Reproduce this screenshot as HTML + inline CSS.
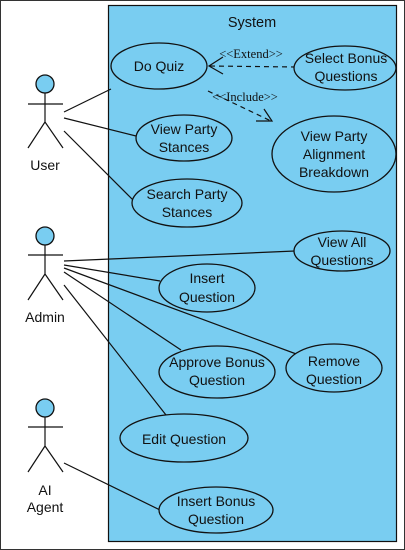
<!DOCTYPE html>
<html><head><meta charset="utf-8"><style>html,body{margin:0;padding:0;background:#fff}svg{display:block}</style></head>
<body>
<svg width="405" height="550" viewBox="0 0 405 550" xmlns="http://www.w3.org/2000/svg" font-family="'Liberation Sans', sans-serif">
<rect x="0.5" y="0.5" width="404" height="549" fill="#fff" stroke="#333" stroke-width="1"/>
<rect x="108.5" y="5.5" width="288" height="536" fill="#79cdf1" stroke="#111" stroke-width="1.2"/>
<text x="252" y="27" font-size="14.5" text-anchor="middle" fill="#111">System</text>
<g fill="#79cdf1" stroke="#111" stroke-width="1.3">
<circle cx="45" cy="84" r="9"/><circle cx="45" cy="236" r="9"/><circle cx="45" cy="408" r="9"/>
</g>
<g stroke="#111" stroke-width="1.2" fill="none">
<path d="M45 93V122M28 104H63M45 122L28 148M45 122L63 148"/>
<path d="M45 245V274M28 255H63M45 274L28 300M45 274L63 300"/>
<path d="M45 417V446M28 427H63M45 446L28 472M45 446L63 472"/>
<line x1="64" y1="112" x2="111" y2="89"/>
<line x1="64" y1="118" x2="136" y2="136"/>
<line x1="64" y1="131" x2="133" y2="200"/>
<line x1="64" y1="261" x2="295" y2="251"/>
<line x1="64" y1="265" x2="160" y2="281"/>
<line x1="64" y1="268" x2="299" y2="355"/>
<line x1="64" y1="272" x2="181" y2="350"/>
<line x1="64" y1="285" x2="166" y2="415"/>
<line x1="64" y1="463" x2="160" y2="510"/>
<line x1="296" y1="67" x2="210" y2="66" stroke-dasharray="5,4"/>
<path d="M223 57L209 66L223 74"/>
<line x1="208" y1="91" x2="271" y2="121" stroke-dasharray="5,4"/>
<path d="M264 109L272 121L256 121"/>
</g>
<g fill="#79cdf1" stroke="#111" stroke-width="1.3">
<ellipse cx="159" cy="66" rx="48" ry="23"/>
<ellipse cx="345" cy="68" rx="51" ry="22"/>
<ellipse cx="184" cy="138" rx="48" ry="23"/>
<ellipse cx="334" cy="154" rx="62" ry="38"/>
<ellipse cx="187" cy="203" rx="55" ry="24"/>
<ellipse cx="342" cy="251" rx="48" ry="20"/>
<ellipse cx="207" cy="288" rx="48" ry="24"/>
<ellipse cx="217" cy="372" rx="58" ry="26"/>
<ellipse cx="334" cy="368" rx="48" ry="24"/>
<ellipse cx="184" cy="438" rx="64" ry="24"/>
<ellipse cx="216" cy="510" rx="57" ry="23"/>
</g>
<g font-size="14" fill="#111" text-anchor="middle">
<text x="159" y="71">Do Quiz</text>
<text x="346" y="63">Select Bonus</text><text x="346" y="81">Questions</text>
<text x="184" y="134">View Party</text><text x="184" y="152">Stances</text>
<text x="334" y="141">View Party</text><text x="334" y="159">Alignment</text><text x="334" y="177">Breakdown</text>
<text x="187" y="199">Search Party</text><text x="187" y="217">Stances</text>
<text x="342" y="247">View All</text><text x="342" y="265">Questions</text>
<text x="207" y="283">Insert</text><text x="207" y="302">Question</text>
<text x="217" y="367">Approve Bonus</text><text x="217" y="385">Question</text>
<text x="334" y="366">Remove</text><text x="334" y="384">Question</text>
<text x="184" y="444">Edit Question</text>
<text x="216" y="506">Insert Bonus</text><text x="216" y="524">Question</text>
<text x="45" y="170">User</text>
<text x="45" y="322">Admin</text>
<text x="45" y="495">AI</text><text x="45" y="512">Agent</text>
</g>
<g font-family="'Liberation Serif', serif" font-size="12.5" fill="#111" text-anchor="middle">
<text x="251" y="58">&lt;&lt;Extend&gt;&gt;</text>
<text x="245" y="101">&lt;&lt;Include&gt;&gt;</text>
</g>
</svg>
</body></html>
